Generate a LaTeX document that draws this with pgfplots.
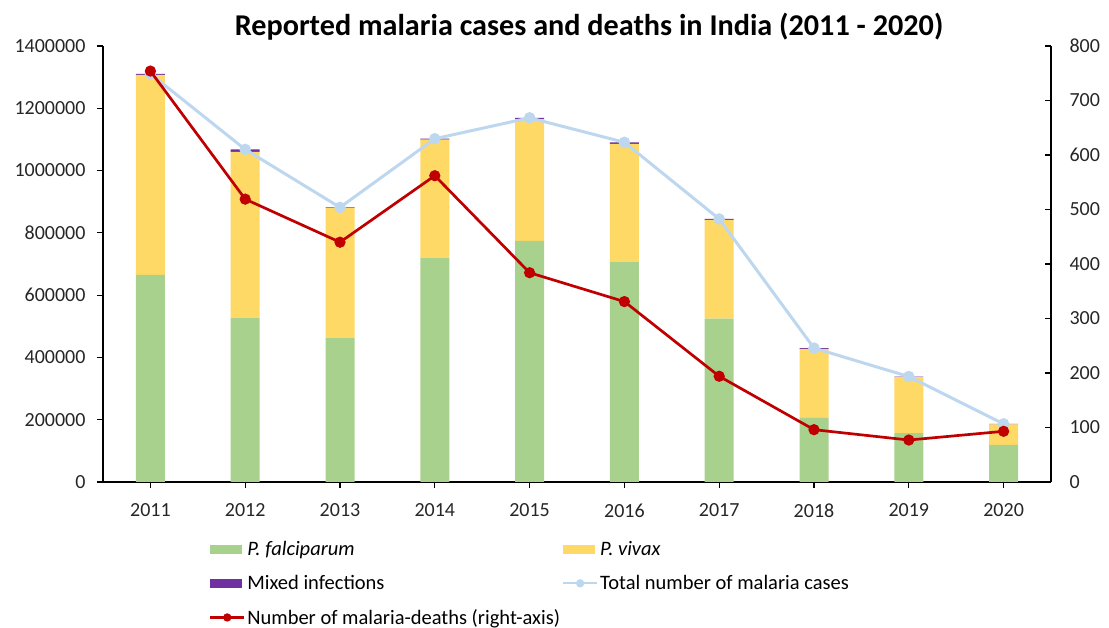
\documentclass[border=0pt]{standalone}
\usepackage{pgfplots}
\pgfplotsset{compat=1.18}
\usepackage{fontspec}
\setmainfont{Carlito}
\definecolor{pfc}{HTML}{A9D18E}
\definecolor{pvc}{HTML}{FFD966}
\definecolor{mixc}{HTML}{7030A0}
\definecolor{totc}{HTML}{BDD7EE}
\definecolor{dthc}{HTML}{C00000}
\definecolor{axc}{HTML}{000000}
\definecolor{lblc}{HTML}{262626}
\begin{document}
\begin{tikzpicture}
\pgfplotsset{
  common/.style={
    at={(0pt,0pt)}, anchor=south west,
    scale only axis, width=948pt, height=436pt,
    xmin=-0.5, xmax=9.5,
    /pgf/number format/assume math mode=true,
    tick label style={font=\fontsize{20}{24}\selectfont, text=lblc},
    axis line style={line width=1.3pt, color=axc},
    major tick length=6pt,
    every tick/.style={line width=1.2pt, color=axc},
  },
  barleg/.style={legend image code/.code={\fill[##1] (0pt,-4.5pt) rectangle (32pt,4.5pt);}},
  lineleg/.style={legend image code/.code={\draw[##1] (0pt,0pt) -- (34pt,0pt); \fill[##1] (17pt,0pt) circle[radius=3pt];}},
}
\begin{axis}[common,
  ybar stacked, bar width=29pt,
  ymin=0, ymax=1400000,
  ytick={0,200000,400000,600000,800000,1000000,1200000,1400000},
  scaled y ticks=false,
  yticklabel style={/pgf/number format/fixed, /pgf/number format/1000 sep={}},
  xtick={0,1,2,3,4,5,6,7,8,9},
  xticklabels={2011,2012,2013,2014,2015,2016,2017,2018,2019,2020},
  axis x line*=bottom, axis y line*=left,
  tick align=outside,
  xticklabel style={yshift=-12pt},
  yticklabel style={xshift=-8pt},
  legend columns=2,
  legend cell align=left,
  legend style={at={(0.1118,-0.132)}, anchor=north west, draw=none, fill=none,
    font=\fontsize{20.5}{24}\selectfont, text=black, inner sep=0pt,
    /tikz/every even column/.append style={column sep=0pt},
    row sep=14pt},
]
\addplot[barleg, fill=pfc, draw=none] coordinates {(0,665004) (1,526000) (2,462079) (3,720795) (4,774627) (5,706257) (6,524370) (7,206264) (8,156940) (9,119088)};
\addlegendentry{\textit{P. falciparum}}
\addplot[barleg, fill=pvc, draw=none] coordinates {(0,642652) (1,533824) (2,417651) (3,378410) (4,390634) (5,379467) (6,317688) (7,221164) (8,180054) (9,66244)};
\addlegendentry{\textit{P. vivax}}
\addplot[barleg, fill=mixc, draw=none] coordinates {(0,3000) (1,8000) (2,2000) (3,3000) (4,4000) (5,5000) (6,2500) (7,2500) (8,1500) (9,1200)};
\addlegendentry{Mixed infections}
\addlegendimage{lineleg, totc, line width=2.2pt}
\addlegendentry{Total number of malaria cases}
\addlegendimage{lineleg, dthc, line width=2.2pt}
\addlegendentry{Number of malaria-deaths (right-axis)}
\end{axis}
\begin{axis}[common, hide axis, ymin=0, ymax=1400000]
\addplot[totc, line width=3pt, mark=*, mark size=4.2pt, mark options={fill=totc, draw=totc}] coordinates {(0,1310656) (1,1067824) (2,881730) (3,1102205) (4,1169261) (5,1090724) (6,844558) (7,429928) (8,338494) (9,186532)};
\end{axis}
\begin{axis}[common,
  axis x line=none, axis y line*=right,
  ymin=0, ymax=800, ytick={0,100,...,800},
  tick align=inside,
  yticklabel style={xshift=15pt},
]
\addplot[dthc, line width=2.7pt, mark=*, mark size=4.2pt, mark options={fill=dthc, draw=dthc}] coordinates {(0,754) (1,519) (2,440) (3,562) (4,384) (5,331) (6,194) (7,96) (8,77) (9,93)};
\end{axis}
\node[font=\bfseries\fontsize{30.2}{36}\selectfont, text=black] at (486pt,455pt) {Reported malaria cases and deaths in India (2011 - 2020)};
\path[use as bounding box] (-103pt,-146pt) rectangle (1006pt,482pt);
\end{tikzpicture}
\end{document}
